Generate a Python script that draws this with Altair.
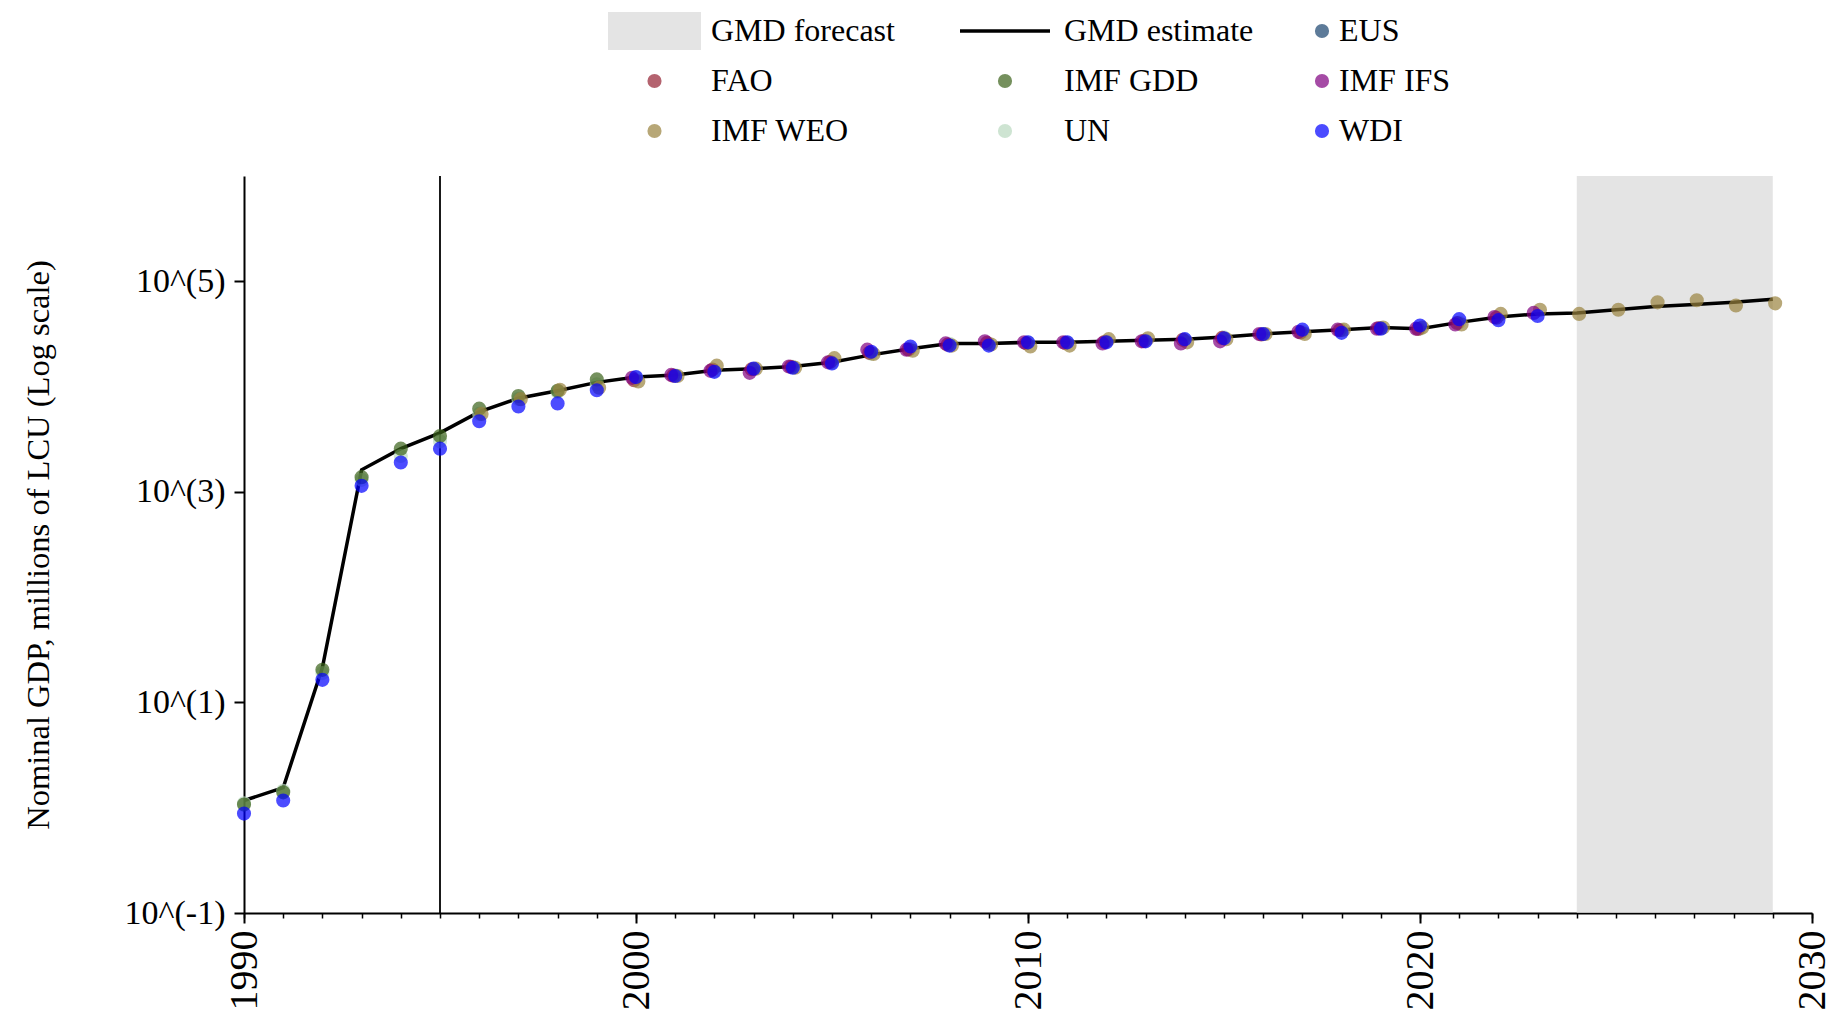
import altair as alt
import pandas as pd

# ---------------- data ----------------
est_years = list(range(1990, 2030))
gmd_estimate = [1.17, 1.55, 21.4, 1620, 2570, 3630, 5750, 7760, 9120, 10960,
                12300, 12900, 14300, 14800, 15500, 17000, 20000, 22900, 25700, 25700,
                26300, 26300, 26900, 27500, 28200, 29500, 31600, 33100, 34700, 36300,
                35500, 40700, 45700, 49000, 50100, 53700, 57500, 60300, 63100, 67600]

un_years = list(range(1990, 2022))
un_vals = [1.1, 1.45, 19, 1300, 2190, 3020, 5500, 7600, 8900, 10500,
           12200, 12800, 14100, 14700, 15400, 16900, 20500, 23000, 25500, 25400,
           26200, 26200, 26800, 27300, 28000, 29300, 31500, 33000, 34600, 36000,
           35400, 40500]

gdd_years = list(range(1990, 2000))
gdd_vals = [1.07, 1.40, 20.4, 1380, 2570, 3390, 6170, 8130, 9120, 11700]

fao_years = list(range(2000, 2023))
fao_vals = [11500, 12700, 14500, 14600, 15400, 17100, 20900, 22500, 25000, 26000,
            25800, 26000, 26500, 27000, 27800, 29000, 31200, 32700, 34300, 35800,
            35200, 40200, 45000]

weo_years = list(range(1996, 2030))
weo_vals = [5500, 7590, 9330, 9770, 11200, 12600, 15800, 14800, 15100, 18600,
            20400, 21900, 24500, 25100, 24000, 24500, 28200, 28800, 26300, 28200,
            31600, 31600, 34700, 36300, 36300, 38900, 49000, 53700, 49000, 53700,
            63100, 66100, 58900, 61700]

ifs_years = list(range(2000, 2024))
ifs_vals = [12100, 12900, 14100, 13500, 15500, 17000, 22400, 22400, 25700, 26900,
            26300, 26300, 25700, 26900, 25700, 26900, 31600, 33100, 34700, 35500,
            35500, 38900, 45700, 50100]

wdi_years = list(range(1990, 2024))
wdi_vals = [0.88, 1.17, 16.4, 1140, 1900, 2570, 4680, 6460, 6920, 9230,
            12300, 12600, 13800, 14800, 15100, 16600, 21400, 24000, 24500, 24500,
            26300, 26300, 26300, 26900, 28200, 28800, 31600, 34700, 32400, 35500,
            38000, 43700, 42700, 46800]

forecast_start = [2024]
forecast_end = [2029]
marker_year = [1995]

# legend columns (left to right), each read top to bottom
legend_col1 = ["GMD forecast", "FAO", "IMF WEO"]
legend_col2 = ["GMD estimate", "IMF GDD", "UN"]
legend_col3 = ["EUS", "IMF IFS", "WDI"]
colors_col1 = ["#d9d9d9", "#952233", "#9a833e"]
colors_col2 = ["#000000", "#3b621a", "#badac0"]
colors_col3 = ["#1a446e", "#800080", "#0000ff"]
shapes_col1 = ["M-1,-0.41H1V0.41H-1Z", "circle", "circle"]
shapes_col2 = ["M-1,-0.04H1V0.04H-1Z", "circle", "circle"]
shapes_col3 = ["circle", "circle", "circle"]
sizes_col1 = [8649, 200, 200]
sizes_col2 = [8100, 200, 200]
sizes_col3 = [200, 200, 200]

x_ticks = [1990, 2000, 2010, 2020, 2030]
y_ticks = [0.1, 10, 1000, 100000]

FONT = "Liberation Serif"

# ---------------- tables ----------------
est_df = pd.DataFrame({"year": est_years, "value": gmd_estimate})


def table(groups):
    rows = []
    for name, ys, vs in groups:
        for y, v in zip(ys, vs):
            rows.append({"source": name, "year": y, "value": v})
    return pd.DataFrame(rows)


df_col2 = table([("UN", un_years, un_vals), ("IMF GDD", gdd_years, gdd_vals)])
df_col1 = table([("FAO", fao_years, fao_vals), ("IMF WEO", weo_years, weo_vals)])
df_col3 = table([("IMF IFS", ifs_years, ifs_vals), ("WDI", wdi_years, wdi_vals)])
fc_df = pd.DataFrame({"start": forecast_start, "end": forecast_end})
rule_df = pd.DataFrame({"year": marker_year})

x_scale = alt.Scale(domain=[1990, 2030], nice=False, zero=False)
y_scale = alt.Scale(type="log", domain=[0.1, 1e6], nice=False)

y_axis = alt.Axis(
    values=y_ticks, labelExpr="'10^(' + round(log(datum.value)/LN10) + ')'",
    title="Nominal GDP, millions of LCU (Log scale)", titleFont=FONT,
    titleFontSize=32.5, titleFontWeight="normal", titleColor="black",
    titleX=-206, titleBaseline="middle",
    labelFont=FONT, labelFontSize=34, labelColor="black", labelPadding=9,
    tickSize=10, tickWidth=2, tickColor="black", domainColor="black",
    domainWidth=2, grid=False,
)
x_axis_main = alt.Axis(
    values=x_ticks, format="d", labelAngle=270, labelFont=FONT,
    labelFontSize=40, labelColor="black", labelPadding=7, tickSize=10,
    tickWidth=2, tickColor="black", domainColor="black", domainWidth=2,
    grid=False, title=None, orient="bottom",
)
x_axis_minor = alt.Axis(
    values=list(range(1990, 2031)), labels=False, domain=False, tickSize=5,
    tickWidth=1.5, tickColor="black", grid=False, title=None, orient="bottom",
)


def legend(x, label_offset):
    return alt.Legend(
        title=None, orient="none", legendX=x, legendY=-164, direction="vertical",
        rowPadding=12, clipHeight=38, labelOffset=label_offset, symbolOffset=0,
        symbolOpacity=alt.ExprRef("datum.value == 'GMD estimate' ? 1 : 0.7"),
        labelFont=FONT, labelFontSize=32, labelColor="black", labelLimit=400,
        padding=0,
    )


def source_points(df, domain, colors, shapes, sizes, leg):
    return alt.Chart(df).transform_calculate(
        xj="datum.year + (datum.source == 'IMF IFS' ? -0.1 : datum.source == 'IMF WEO' ? 0.06 : datum.source == 'FAO' ? -0.05 : 0)"
    ).mark_point(filled=True, opacity=0.7, strokeWidth=0).encode(
        x=alt.X("xj:Q", scale=x_scale, axis=None),
        y=alt.Y("value:Q", scale=y_scale, axis=y_axis),
        color=alt.Color("source:N", scale=alt.Scale(domain=domain, range=colors), legend=leg),
        shape=alt.Shape("source:N", scale=alt.Scale(domain=domain, range=shapes), legend=leg),
        size=alt.Size("source:N", scale=alt.Scale(type="ordinal", domain=domain, range=sizes), legend=leg),
    )


rect = alt.Chart(fc_df).mark_rect(color="#d9d9d9", opacity=0.7).encode(
    x=alt.X("start:Q", scale=x_scale, axis=None),
    x2="end:Q",
    y=alt.value(0),
    y2=alt.value("height"),
)

rule = alt.Chart(rule_df).mark_rule(color="black", strokeWidth=1.8).encode(
    x=alt.X("year:Q", scale=x_scale, axis=x_axis_minor),
)

line = alt.Chart(est_df).mark_line(color="black", strokeWidth=3.5).encode(
    x=alt.X("year:Q", scale=x_scale, axis=x_axis_main),
    y=alt.Y("value:Q", scale=y_scale, axis=y_axis),
)

pts2 = source_points(df_col2, legend_col2, colors_col2, shapes_col2, sizes_col2, legend(715, 13))
pts1 = source_points(df_col1, legend_col1, colors_col1, shapes_col1, sizes_col1, legend(363, 9))
pts3 = source_points(df_col3, legend_col3, colors_col3, shapes_col3, sizes_col3, legend(1062, 1))

chart = alt.layer(rect, rule, line, pts2, pts1, pts3).resolve_axis(
    x="independent"
).resolve_scale(
    color="independent", shape="independent", size="independent"
).properties(
    width=1568, height=737,
    autosize=alt.AutoSizeParams(type="none"),
    padding={"left": 236, "top": 168, "right": 20, "bottom": 99},
    background="white",
).configure_view(stroke=None)

chart.save("out.html", embed_options={"renderer": "svg", "actions": False})
